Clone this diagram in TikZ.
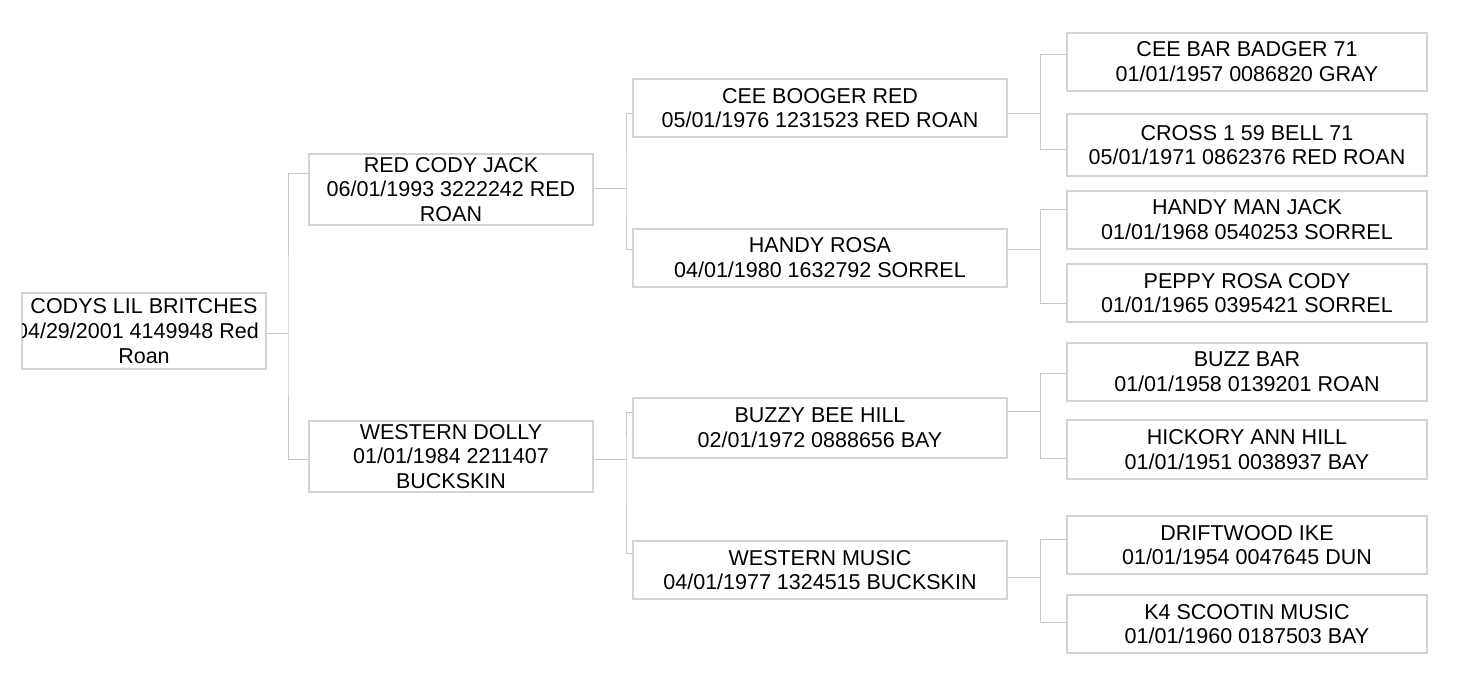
\documentclass[tikz,border=0pt]{standalone}
\usepackage{fontspec}
\setmainfont{Liberation Sans}
\usepackage{tikz}

\definecolor{boxgray}{HTML}{D3D3D3}
\definecolor{linegray}{HTML}{C8C8C8}

\begin{document}
\begin{tikzpicture}[x=0.5pt, y=-0.5pt,
    horse/.style={draw=boxgray, line width=1pt, fill=white, align=center, inner sep=0.5pt,
      font=\fontsize{10.75pt}{12.4pt}\selectfont},
    gen0/.style={horse, minimum width=122pt, minimum height=38pt},
    gen1/.style={horse, minimum width=142pt, minimum height=35.5pt},
    gen2/.style={horse, minimum width=187pt, minimum height=29pt},
    gen3/.style={horse, minimum width=180pt, minimum height=29pt},
    link/.style={draw=linegray, line width=0.5pt}
  ]
    \useasboundingbox (0,0) rectangle (1462,692);

    % foal
    \node[gen0] (root) at (144,331) {};
    \begin{scope}
      \clip (22,293) rectangle (266,369);
      \node[horse, draw=none, fill=none] (rootlabel) at (144,331)
        {CODYS LIL BRITCHES\\\hspace*{-6.5pt}04/29/2001 4149948 Red\\Roan};
    \end{scope}

    % parents
    \node[gen1] (rcj) at (451,189.5) {RED CODY JACK\\06/01/1993 3222242 RED\\ROAN};
    \node[gen1] (wd) at (451,456.5) {WESTERN DOLLY\\01/01/1984 2211407\\BUCKSKIN};

    % grandparents
    \node[gen2] (cbr) at (820,108) {CEE BOOGER RED\\05/01/1976 1231523 RED ROAN};
    \node[gen2] (hr) at (820,257.5) {HANDY ROSA\\04/01/1980 1632792 SORREL};
    \node[gen2, minimum height=30pt] (bbh) at (820,428) {BUZZY BEE HILL\\02/01/1972 0888656 BAY};
    \node[gen2] (wm) at (820,570) {WESTERN MUSIC\\04/01/1977 1324515 BUCKSKIN};

    % great-grandparents
    \node[gen3] (cbb) at (1247,61.5) {CEE BAR BADGER 71\\01/01/1957 0086820 GRAY};
    \node[gen3, minimum height=31pt] (c159) at (1247,145) {CROSS 1 59 BELL 71\\05/01/1971 0862376 RED ROAN};
    \node[gen3] (hmj) at (1247,219.5) {HANDY MAN JACK\\01/01/1968 0540253 SORREL};
    \node[gen3] (prc) at (1247,293) {PEPPY ROSA CODY\\01/01/1965 0395421 SORREL};
    \node[gen3] (bb) at (1247,372) {BUZZ BAR\\01/01/1958 0139201 ROAN};
    \node[gen3, minimum height=29.5pt] (hah) at (1247,449.5) {HICKORY ANN HILL\\01/01/1951 0038937 BAY};
    \node[gen3] (di) at (1247,545) {DRIFTWOOD IKE\\01/01/1954 0047645 DUN};
    \node[gen3] (k4) at (1247,624) {K4 SCOOTIN MUSIC\\01/01/1960 0187503 BAY};

    % brackets
    \draw[link] ([yshift=-1pt]root.east) -- ++(21,0) coordinate (j0);
    \draw[link] ([yshift=8.25pt]rcj.west) -| (j0) |- ([yshift=-1.25pt]wd.west);

    \draw[link] ([yshift=0.75pt]rcj.east) -- ++(32,0) coordinate (j1);
    \draw[link] ([yshift=-2.5pt]cbr.west) -| (j1) |- ([yshift=4.25pt]hr.west);
    \draw[link] ([yshift=-1.25pt]wd.east) -- ++(32,0) coordinate (j2);
    \draw[link] ([yshift=8pt]bbh.west) -| (j2) |- ([yshift=8.5pt]wm.west);

    \draw[link] ([yshift=-2.5pt]cbr.east) -- ++(32,0) coordinate (j3);
    \draw[link] ([yshift=3.75pt]cbb.west) -| (j3) |- ([yshift=-2pt]c159.west);
    \draw[link] ([yshift=4.25pt]hr.east) -- ++(32,0) coordinate (j4);
    \draw[link] ([yshift=5.25pt]hmj.west) -| (j4) |- ([yshift=-5pt]prc.west);
    \draw[link] ([yshift=8.5pt]bbh.east) -- ++(32,0) coordinate (j5);
    \draw[link] ([yshift=-0.5pt]bb.west) -| (j5) |- ([yshift=-4.25pt]hah.west);
    \draw[link] ([yshift=-3.5pt]wm.east) -- ++(32,0) coordinate (j6);
    \draw[link] ([yshift=3pt]di.west) -| (j6) |- ([yshift=1pt]k4.west);
\end{tikzpicture}
\end{document}
